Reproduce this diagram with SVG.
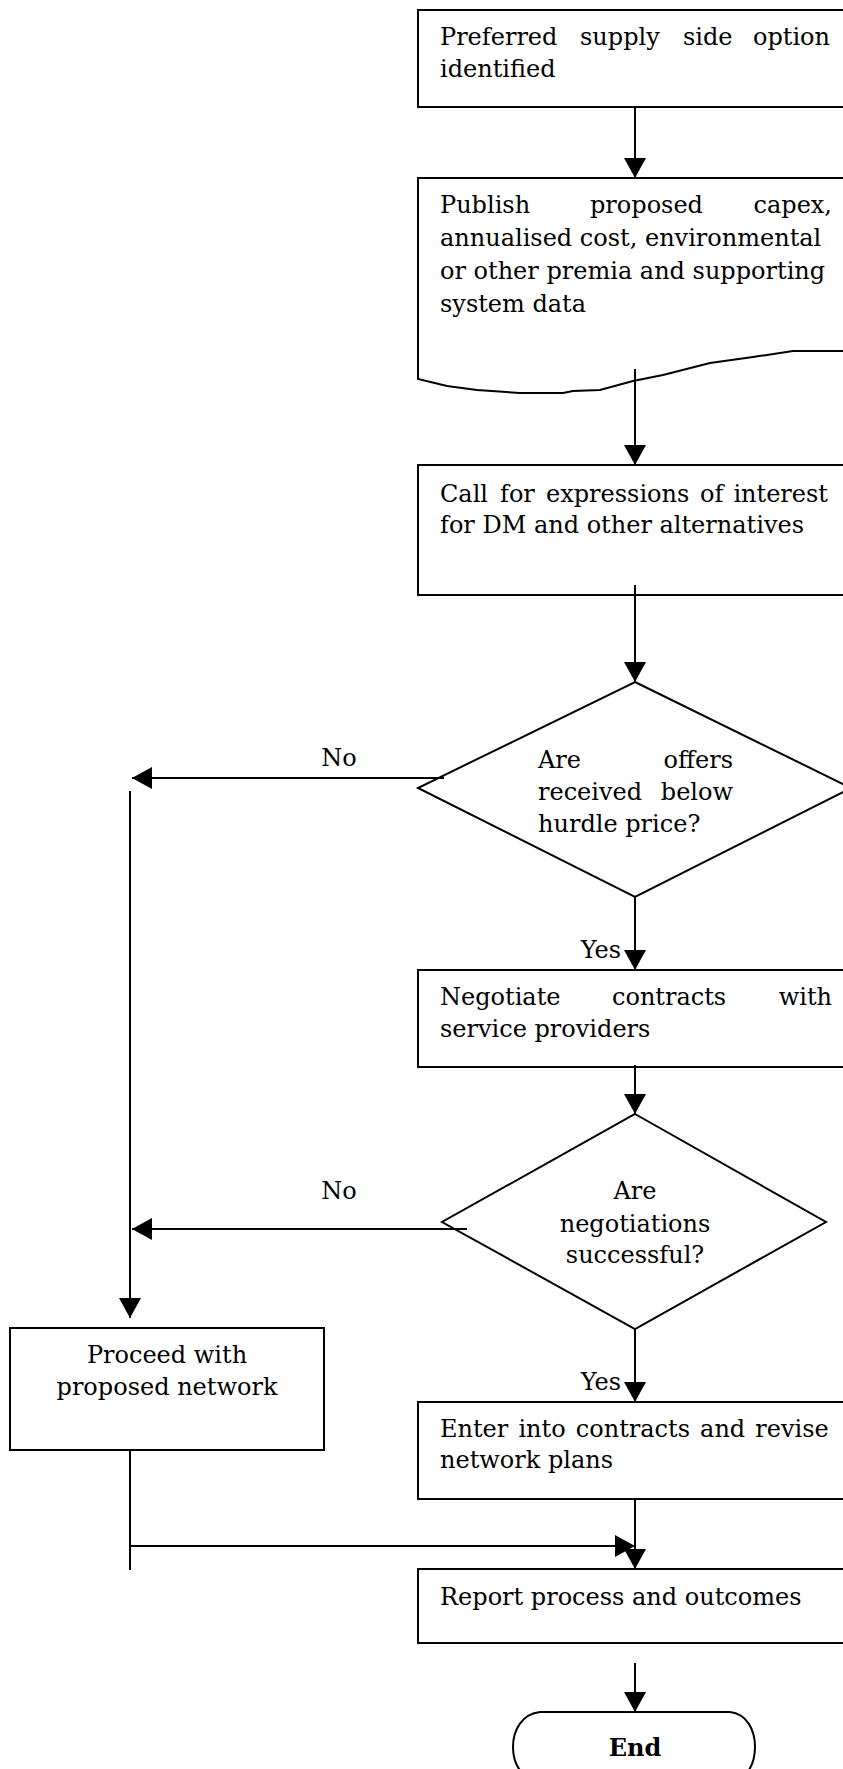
<svg xmlns="http://www.w3.org/2000/svg" width="843" height="1769" viewBox="0 0 843 1769">
<defs>
<marker id="ah" markerUnits="userSpaceOnUse" viewBox="0 0 20 22" markerWidth="20" markerHeight="22" refX="20" refY="11" orient="auto"><path d="M0,0 L20,11 L0,22 Z" fill="#000"/></marker>
</defs>
<style>
.box{fill:#fff;stroke:#000;stroke-width:2}
.t{font-family:"DejaVu Serif",serif;font-size:24px;fill:#000}
.b{font-weight:bold}
.m{text-anchor:middle}
.e{text-anchor:end}
.c{fill:none;stroke:#000;stroke-width:2;marker-end:url(#ah)}
.p{fill:none;stroke:#000;stroke-width:2}
</style>
<rect width="843" height="1769" fill="#fff"/>
<g id="n1">
<rect class="box" x="418" y="10" width="440" height="97"/>
<text class="t" y="45"><tspan x="440">Preferred</tspan><tspan x="580">supply</tspan><tspan x="683">side</tspan></text>
<text class="t e" x="830" y="45">option</text>
<text class="t" x="440" y="77">identified</text>
</g>
<g id="n2">
<path class="box" d="M418,178 L850,178 L850,351 L793,351 L753,357 L710,363 L663,375 L633,381 L600,390 L573,391 L563,393 L520,393 L477,390 L447,386 L418,379 Z"/>
<text class="t" y="213"><tspan x="440">Publish</tspan><tspan x="590">proposed</tspan></text>
<text class="t e" x="832" y="213">capex,</text>
<text class="t" x="440" y="246">annualised cost, environmental</text>
<text class="t" x="440" y="279">or other premia and supporting</text>
<text class="t" x="440" y="312">system data</text>
</g>
<g id="n3">
<rect class="box" x="418" y="465" width="440" height="130"/>
<text class="t" y="502"><tspan x="440">Call</tspan><tspan x="500">for</tspan><tspan x="546">expressions</tspan><tspan x="700">of</tspan></text>
<text class="t e" x="828" y="502">interest</text>
<text class="t" x="440" y="533">for DM and other alternatives</text>
</g>
<g id="d1">
<polygon class="box" points="635,682 851,788 635,897 418,788"/>
<text class="t" x="538" y="768">Are</text>
<text class="t e" x="733" y="768">offers</text>
<text class="t" x="538" y="800">received</text>
<text class="t e" x="733" y="800">below</text>
<text class="t" x="538" y="832">hurdle price?</text>
</g>
<g id="n4">
<rect class="box" x="418" y="970" width="440" height="97"/>
<text class="t" y="1005"><tspan x="440">Negotiate</tspan><tspan x="612">contracts</tspan></text>
<text class="t e" x="832" y="1005">with</text>
<text class="t" x="440" y="1037">service providers</text>
</g>
<g id="d2">
<polygon class="box" points="635,1114 826,1222 635,1329 442,1222"/>
<text class="t m" x="635" y="1199">Are</text>
<text class="t m" x="635" y="1232">negotiations</text>
<text class="t m" x="635" y="1263">successful?</text>
</g>
<g id="n5">
<rect class="box" x="10" y="1328" width="314" height="122"/>
<text class="t m" x="167" y="1363">Proceed with</text>
<text class="t m" x="167" y="1395">proposed network</text>
</g>
<g id="n6">
<rect class="box" x="418" y="1402" width="440" height="97"/>
<text class="t" x="440" y="1437" word-spacing="2.5">Enter into contracts and revise</text>
<text class="t" x="440" y="1468">network plans</text>
</g>
<g id="n7">
<rect class="box" x="418" y="1569" width="440" height="74"/>
<text class="t" x="440" y="1605">Report process and outcomes</text>
</g>
<g id="end">
<path class="box" d="M540,1712 L730,1712 C747,1714 755,1730 755,1747 C755,1764 747,1780 730,1782 L540,1782 C522,1780 513,1764 513,1747 C513,1730 522,1714 540,1712 Z"/>
<text class="t b m" x="635" y="1756">End</text>
</g>
<g id="connectors">
<path class="c" d="M635,107 V178"/>
<path class="c" d="M635,369 V465"/>
<path class="c" d="M635,585 V682"/>
<path class="c" d="M444,778 H132"/>
<path class="c" d="M130,791 V1318"/>
<path class="c" d="M635,897 V970"/>
<path class="c" d="M635,1065 V1114"/>
<path class="c" d="M467,1229 H132"/>
<path class="c" d="M635,1329 V1402"/>
<path class="c" d="M635,1498 V1569"/>
<path class="p" d="M130,1450 V1570"/>
<path class="c" d="M130,1546 H635"/>
<path class="c" d="M635,1663 V1712"/>
<text class="t m" x="339" y="766">No</text>
<text class="t m" x="339" y="1199">No</text>
<text class="t e" x="621" y="958">Yes</text>
<text class="t e" x="621" y="1390">Yes</text>
</g>
</svg>
